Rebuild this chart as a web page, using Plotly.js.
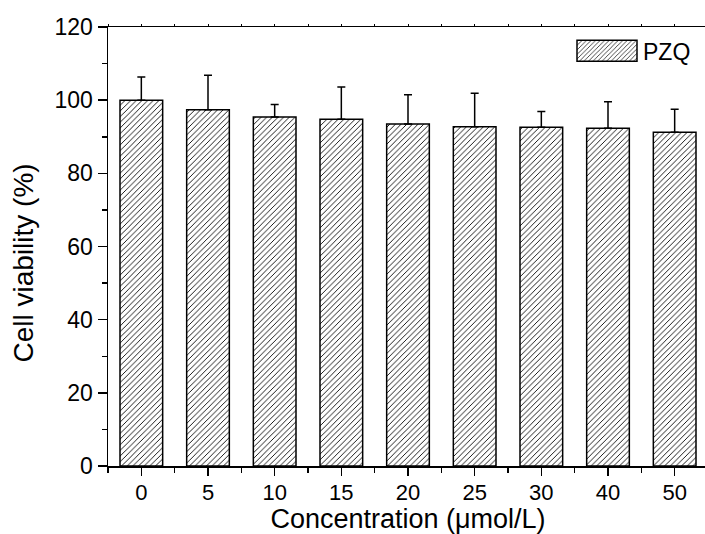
<!DOCTYPE html>
<html>
<head>
<meta charset="utf-8">
<script src="https://cdn.plot.ly/plotly-3.0.1.min.js"></script>
<style>
  html, body { margin: 0; padding: 0; overflow: hidden; background: #fff; }
  #chart { width: 710px; height: 534px; }
</style>
</head>
<body>
<div id="chart"></div>
<script>
// Data
const categories = ["0", "5", "10", "15", "20", "25", "30", "40", "50"];
const viability = [100.0, 97.4, 95.4, 94.8, 93.5, 92.7, 92.6, 92.3, 91.2];
const viabilitySD = [6.3, 9.4, 3.4, 8.8, 8.0, 9.2, 4.3, 7.3, 6.3];
const seriesName = "PZQ";
const yTicks = [0, 20, 40, 60, 80, 100, 120];
const xTitle = "Concentration (\u03bcmol/L)";
const yTitle = "Cell viability (%)";

const idx = categories.map((c, i) => i);
const boundaries = categories.map((c, i) => i - 0.5).concat([categories.length - 0.5]);
const halfSteps = [];
for (let v = -0.5; v <= categories.length - 0.5 + 1e-9; v += 0.5) halfSteps.push(v);

const FONT = "Liberation Sans, Arial, Helvetica, sans-serif";

const trace = {
  type: "bar",
  name: seriesName,
  x: idx,
  y: viability,
  width: 0.64,
  marker: {
    color: "white",
    line: { color: "black", width: 1.5 },
    pattern: { shape: "/", size: 4, solidity: 0.22, fgcolor: "black", bgcolor: "white" }
  },
  error_y: {
    type: "data",
    symmetric: false,
    array: viabilitySD,
    arrayminus: viabilitySD.map(() => 0),
    color: "black",
    thickness: 1.5,
    width: 4
  },
  showlegend: true
};

// invisible helper trace to carry the tiny top ticks
const topHelper = {
  type: "scatter", mode: "markers", x: [idx[0]], y: [viability[0]],
  xaxis: "x2", yaxis: "y", marker: { opacity: 0 }, showlegend: false, hoverinfo: "skip"
};

const xr = [-0.5, categories.length - 0.5];

const layout = {
  width: 710,
  height: 534,
  margin: { l: 108, r: 2, t: 27, b: 68 },
  paper_bgcolor: "white",
  plot_bgcolor: "white",
  font: { family: FONT, size: 23, color: "black" },
  showlegend: true,
  legend: {
    x: 0.98, xanchor: "right", y: 0.995, yanchor: "top",
    bgcolor: "rgba(0,0,0,0)", borderwidth: 0,
    font: { family: FONT, size: 23, color: "black" },
    itemwidth: 60
  },
  xaxis: {
    range: xr,
    tickmode: "array",
    tickvals: idx,
    ticktext: categories,
    ticks: "outside",
    ticklen: 8,
    tickwidth: 1.5,
    tickcolor: "black",
    ticklabelstandoff: -2,
    minor: { tickmode: "array", tickvals: boundaries, ticks: "outside", ticklen: 5, tickwidth: 1.5, tickcolor: "black" },
    showline: true,
    linecolor: "black",
    linewidth: 1.5,
    mirror: true,
    showgrid: false,
    zeroline: false,
    tickfont: { size: 22 },
    title: { text: xTitle, font: { size: 27 }, standoff: 4 }
  },
  xaxis2: {
    overlaying: "x",
    side: "top",
    range: xr,
    tickmode: "array",
    tickvals: halfSteps,
    ticks: "outside",
    ticklen: 2,
    tickwidth: 1,
    tickcolor: "black",
    showticklabels: false,
    showgrid: false,
    zeroline: false,
    showline: false
  },
  yaxis: {
    range: [0, 120],
    tickmode: "array",
    tickvals: yTicks,
    ticks: "outside",
    ticklen: 9,
    tickwidth: 1.5,
    tickcolor: "black",
    minor: { dtick: 10, tick0: 0, ticks: "outside", ticklen: 5, tickwidth: 1.5, tickcolor: "black" },
    showline: true,
    linecolor: "black",
    linewidth: 1.5,
    showgrid: false,
    zeroline: false,
    tickfont: { size: 23 }
  },
  annotations: [{
    text: yTitle,
    textangle: -90,
    xref: "paper", yref: "paper",
    x: 0, y: 0.5,
    xanchor: "center", yanchor: "middle",
    xshift: -85, yshift: -17,
    showarrow: false,
    font: { family: FONT, size: 28, color: "black" }
  }],
  bargap: 0.36
};

function widenLegendSwatch(gd) {
  const item = gd.querySelector(".legend .traces");
  if (!item) return;
  const txt = item.querySelector(".legendtext");
  const p = item.querySelector(".legendpoints path");
  if (!txt || !p) return;
  const tl = txt.getBoundingClientRect().left;
  const ctm = p.getScreenCTM();
  if (!ctm) return;
  const right = (tl - 6 - ctm.e) / ctm.a;
  const left = right - 60;
  p.setAttribute("d", "M" + left + ",-10.5H" + right + "V10.5H" + left + "Z");
  p.style.strokeWidth = "1.5px";
}

Plotly.newPlot("chart", [trace, topHelper], layout, { staticPlot: true, displayModeBar: false }).then(function (gd) {
  widenLegendSwatch(gd);
  gd.on("plotly_afterplot", function () { widenLegendSwatch(gd); });
});
</script>
</body>
</html>
